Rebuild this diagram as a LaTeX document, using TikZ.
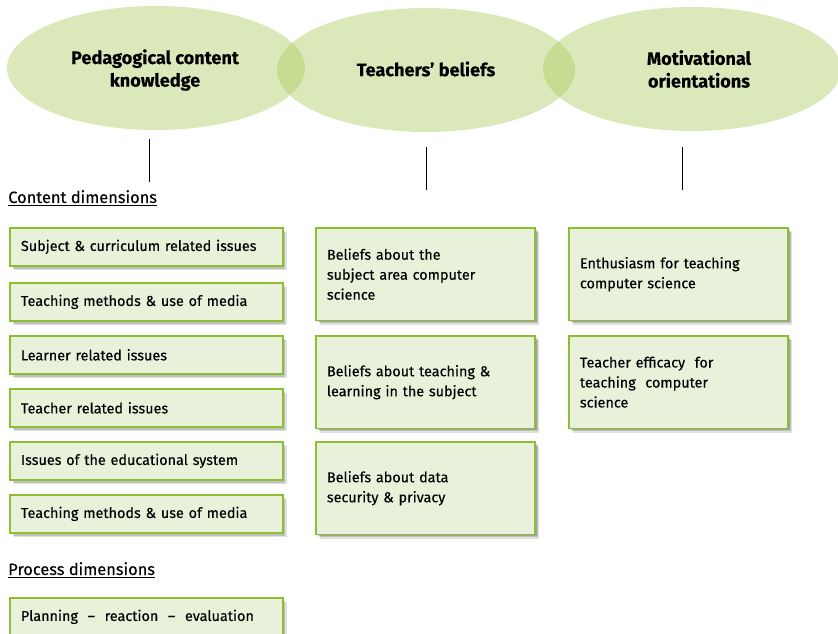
\documentclass[tikz,border=0pt]{standalone}
\usepackage{fontspec}
\setmainfont{Fira Sans}[FakeBold=0.25]
\usetikzlibrary{shadows,shapes.geometric}
\definecolor{ellgreen}{RGB}{175,205,100}
\definecolor{boxfill}{RGB}{234,241,218}
\definecolor{boxline}{RGB}{140,190,50}
\tikzset{
  ell/.style={ellipse, fill=ellgreen, fill opacity=0.45, draw=none, inner sep=0pt,
    minimum width=223.5pt, minimum height=93pt},
  elltext/.style={font=\bfseries\fontsize{13.6}{17}\selectfont, align=center},
  itembox/.style={draw=boxline, line width=1.3pt, fill=boxfill, anchor=north west,
    inner xsep=8.3pt, inner ysep=2pt, align=left,
    font=\fontsize{10.8}{15}\selectfont,
    general shadow={shadow xshift=3pt, shadow yshift=-3pt, opacity=0.12, fill=black},
    general shadow={shadow xshift=2pt, shadow yshift=-2pt, opacity=0.15, fill=black},
    general shadow={shadow xshift=1pt, shadow yshift=-1pt, opacity=0.15, fill=black}},
  leftbox/.style={itembox, minimum width=204.5pt, minimum height=28.5pt, text width=188pt},
  bigbox/.style={itembox, minimum width=164.5pt, minimum height=69.5pt, text width=148pt},
  heading/.style={anchor=base west, inner sep=0pt, font=\fontsize{12.3}{14}\selectfont},
  vline/.style={line width=0.6pt, black}
}
\begin{document}
\begin{tikzpicture}[x=0.75pt, y=-0.75pt]
\useasboundingbox (0,0) rectangle (838,634);
% ellipses
\node[ell] (e1) at (156,68) {};
\node[ell] (e2) at (426,70) {};
\node[ell] (e3) at (692,69) {};
\node[elltext] (t1) at (155,70) {Pedagogical content\\knowledge};
\node[elltext] (t2) at (426,69) {Teachers’ beliefs};
\node[elltext] (t3) at (699,69) {Motivational\\orientations};
% vertical lines
\coordinate (l1a) at (149,139); \coordinate (l1b) at (149,182);
\coordinate (l2a) at (426,147); \coordinate (l2b) at (426,190);
\coordinate (l3a) at (682,147); \coordinate (l3b) at (682,190);
\draw[vline] (l1a) -- (l1b);
\draw[vline] (l2a) -- (l2b);
\draw[vline] (l3a) -- (l3b);
% headings
\node[heading] (h1) at (8,203) {\underline{Content dimensions}};
\node[heading] (h2) at (8,575) {\underline{Process dimensions}};
% left boxes
\node[leftbox] (a1) at (9,227) {Subject \& curriculum related issues};
\node[leftbox] (a2) at (9,282) {Teaching methods \& use of media};
\node[leftbox] (a3) at (9,335) {Learner related issues};
\node[leftbox] (a4) at (9,388) {Teacher related issues};
\node[leftbox] (a5) at (9,441) {Issues of the educational system};
\node[leftbox] (a6) at (9,494) {Teaching methods \& use of media};
\node[leftbox] (a7) at (9,597) {Planning \ – \ reaction \ – \ evaluation};
% middle boxes
\node[bigbox] (b1) at (315,227) {Beliefs about the\\subject area computer\\science};
\node[bigbox] (b2) at (315,335) {Beliefs about teaching \&\\learning in the subject};
\node[bigbox] (b3) at (315,441) {Beliefs about data\\security \& privacy};
% right boxes
\node[bigbox] (c1) at (568,227) {Enthusiasm for teaching\\computer science};
\node[bigbox] (c2) at (568,335) {Teacher efficacy \ for\\teaching \ computer\\science};
\end{tikzpicture}
\end{document}
